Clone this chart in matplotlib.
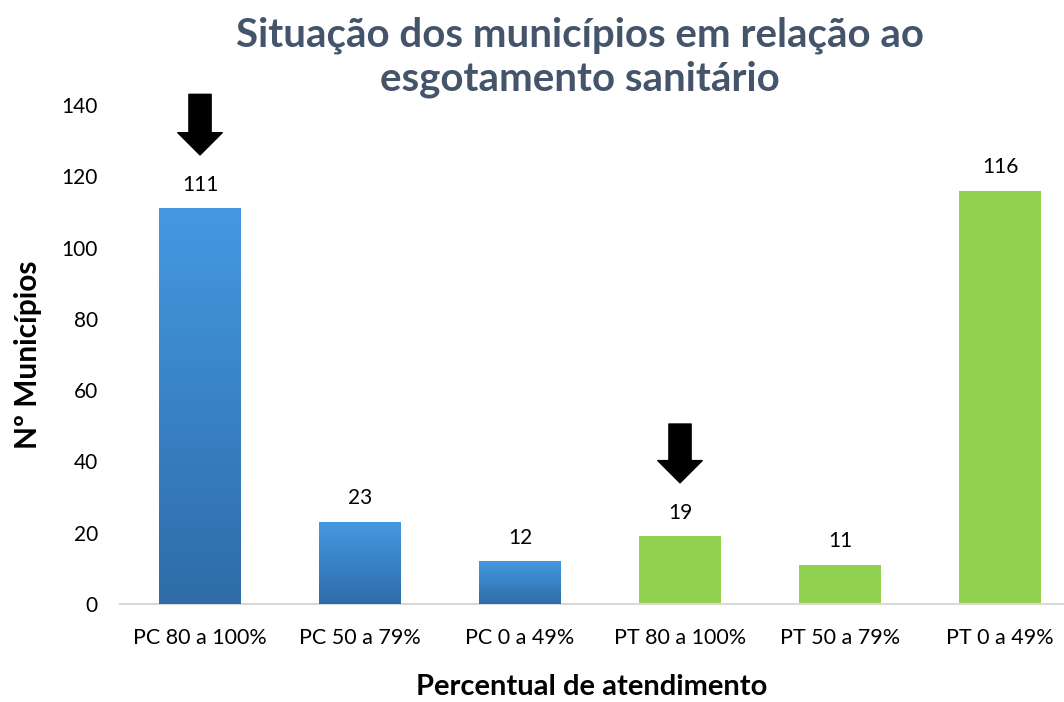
import numpy as np
import matplotlib
matplotlib.use("Agg")
import matplotlib.pyplot as plt

categories = ["PC 80 a 100%", "PC 50 a 79%", "PC 0 a 49%",
              "PT 80 a 100%", "PT 50 a 79%", "PT 0 a 49%"]
values = [111, 23, 12, 19, 11, 116]
groups = ["PC", "PC", "PC", "PT", "PT", "PT"]
# arrows: (category index, top value, tip value)
arrows = [(0, 143, 126), (3, 50.5, 34)]

plt.rcParams["font.family"] = ["Lato", "DejaVu Sans"]

fig = plt.figure(figsize=(10.64, 7.02), dpi=100)
ax = fig.add_axes([0.1128, 0.1396, 0.8872, 0.7108])

x = np.arange(len(categories))
green = "#92d050"
bars = ax.bar(x, values, width=0.51, color=[green if g == "PT" else "#3d8ad3" for g in groups],
              zorder=2)

# vertical gradient for the blue bars
grad = np.linspace(0, 1, 256).reshape(-1, 1)
cmap = matplotlib.colors.LinearSegmentedColormap.from_list("blu", ["#2e6ca8", "#4499e2"])
for b, g in zip(bars, groups):
    if g != "PC":
        continue
    x0, w, h = b.get_x(), b.get_width(), b.get_height()
    im = ax.imshow(grad, cmap=cmap, origin="lower", aspect="auto",
                   extent=[x0, x0 + w, 0, h], zorder=3)
    im.set_clip_path(b)

for xi, v in zip(x, values):
    ax.annotate(str(v), (xi, v), xytext=(0, 17), textcoords="offset points",
                ha="center", va="center", fontsize=15)

for idx, top, tip in arrows:
    ax.annotate("", xy=(idx, tip), xytext=(idx, top),
                arrowprops=dict(arrowstyle="simple,head_length=1.0,head_width=2.0,tail_width=1.0",
                                mutation_scale=16, color="black", shrinkA=0, shrinkB=0),
                annotation_clip=False)

ax.set_xlim(-0.5, 5.4)
ax.set_ylim(0, 140)
ax.set_yticks(range(0, 141, 20))
ax.set_xticks(x)
ax.set_xticklabels(categories, fontsize=15.5)
ax.tick_params(axis="y", labelsize=15, length=0, pad=16)
ax.tick_params(axis="x", length=0, pad=17)
for s in ["top", "right", "left"]:
    ax.spines[s].set_visible(False)
ax.spines["bottom"].set_color("#d9d9d9")
ax.spines["bottom"].set_linewidth(1.5)

ax.set_ylabel("Nº Municípios", fontsize=21.5, fontweight="bold", labelpad=14)
ax.set_xlabel("Percentual de atendimento", fontsize=21, fontweight="bold", labelpad=19)
fig.text(0.545, 0.919, "Situação dos municípios em relação ao\nesgotamento sanitário",
         ha="center", va="center", fontsize=29, fontweight="bold", color="#44546a",
         linespacing=1.22)

fig.savefig("out.png", dpi=100)
